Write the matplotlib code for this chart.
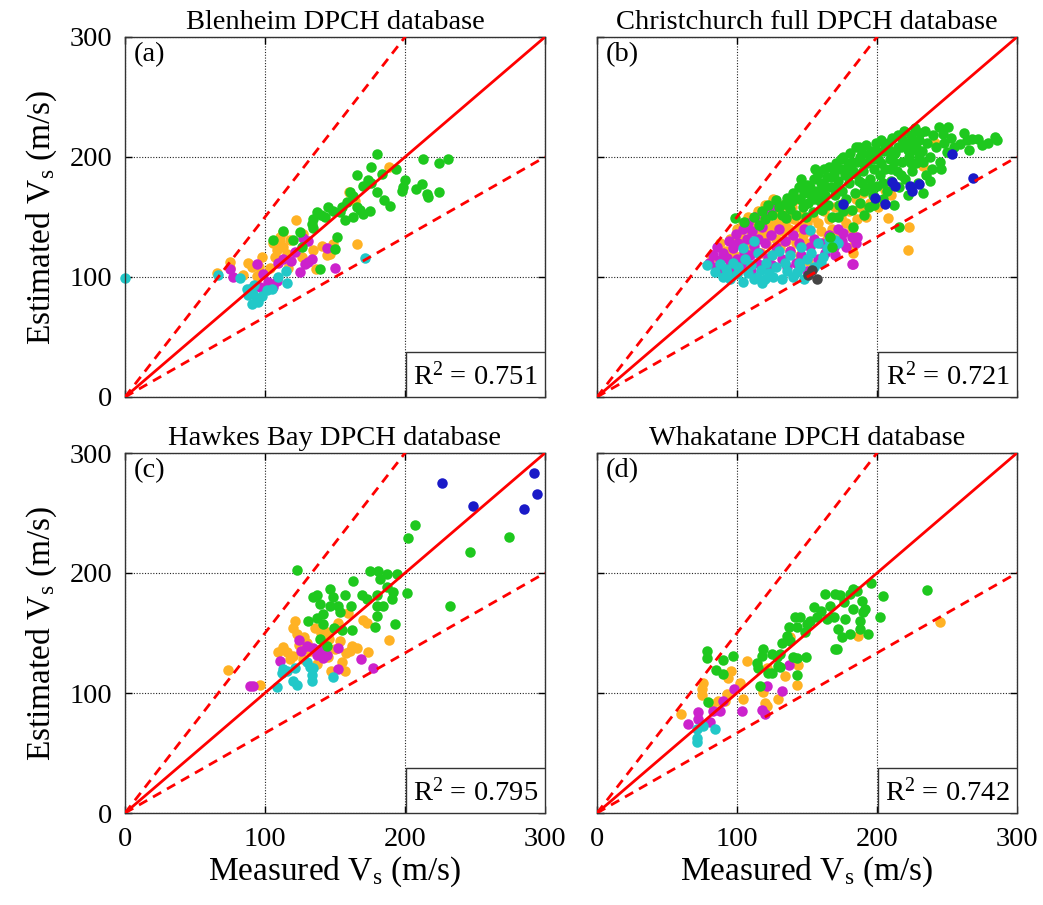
"""
Measured vs estimated shear-wave velocity, four DPCH sites.
"""

import matplotlib
matplotlib.use("Agg")
import matplotlib.pyplot as plt
import matplotlib.patches as mpatches
import numpy as np

plt.rcParams["font.family"] = "Liberation Serif"
plt.rcParams["mathtext.fontset"] = "custom"
plt.rcParams["mathtext.rm"] = "Liberation Serif"
plt.rcParams["mathtext.it"] = "Liberation Serif:italic"

# soil class colours
C_GREEN = "#1ec81e"
C_ORANGE = "#ffb224"
C_MAGENTA = "#cc22cc"
C_CYAN = "#22c8c8"
C_BLUE = "#1a1ac8"
C_GRAY = "#454545"

TITLES = ["Blenheim DPCH database", "Christchurch full DPCH database",
          "Hawkes Bay DPCH database", "Whakatane DPCH database"]
TAGS = ["(a)", "(b)", "(c)", "(d)"]
R2 = [0.751, 0.721, 0.795, 0.742]

# --- (a) Blenheim: (measured, estimated) ---
A_ORANGE = [(188.8, 191.7), (160.2, 170.5), (164.3, 163.6), (122.1, 147.2), (112.6, 137.5),
            (108.3, 122.2), (113.1, 125), (115.5, 119.5), (107.1, 116.8), (105.9, 128),
            (110.7, 129.3), (127.4, 135.6), (165.5, 127.2), (140.5, 125.5), (144, 118),
            (146.4, 119.4), (134.5, 122.2), (126.2, 116.8), (75, 112.5), (65.5, 103.3),
            (88.1, 111.9), (90.5, 108.6), (97.6, 116.4), (96, 108.6), (84.5, 101.4),
            (94.5, 100.6), (103.6, 107.7), (116.7, 107.7), (136.4, 107), (148.8, 127.8),
            (75, 107.8), (118, 131), (111, 133)]
A_MAGENTA = [(75, 107), (77.4, 100), (94, 111), (109.5, 112), (113.1, 115.3), (118.8, 113.3),
             (121.4, 120.8), (128.6, 110.8), (133.3, 115), (127, 132.5), (131, 129.7),
             (144, 124.2), (150, 107.2), (125, 103.9), (108.3, 97), (102.4, 95.6),
             (96.4, 91.5), (105.9, 91.5), (89.3, 90), (98.8, 102.7), (130.5, 112.5)]
A_CYAN = [(0, 99.2), (66.7, 101.9), (82.1, 99.4), (115, 105.3), (116, 94.7), (109.5, 99.7),
          (171.4, 116.2), (86.9, 90), (91.7, 86), (94, 82), (90.5, 77.8), (95, 79.3),
          (101.2, 89), (104.8, 90.4), (88.1, 85.3), (97.6, 84), (92, 93)]
A_GREEN = [(180.2, 202.8), (212.6, 198.6), (224.5, 195), (231, 198.6), (175.5, 191.7),
           (183.3, 186), (166, 184.7), (173.8, 180.5), (193.6, 190.3), (200, 181),
           (198.8, 175), (197.6, 171.7), (207.9, 173.3), (211.9, 177.2), (215.5, 169.5),
           (216.7, 166.7), (224.5, 171), (179.8, 171), (185, 164.4), (189.3, 158.9),
           (175, 155), (170.2, 152.2), (165.5, 158), (163.1, 167.8), (160.7, 170.5),
           (158.3, 162.2), (154.8, 158), (148.8, 155.2), (145.2, 158), (142.9, 149.9),
           (136.9, 153.9), (134.5, 148.4), (133.3, 144.3), (134.5, 140.9), (125, 137.3),
           (113.1, 138.1), (120.2, 131), (105.5, 131), (126.2, 124.9), (151.2, 133.3),
           (150, 123.6), (139.3, 107), (157.1, 147.2), (153.6, 154.2), (163.1, 150),
           (167.9, 155.6), (176, 178), (170, 176), (140, 152)]

# --- (b) Christchurch ---
B_ORANGE = [(81.9, 116.4), (87.9, 128.3), (99.8, 140.3), (92, 122), (95, 132), (98, 118),
            (100, 128), (102, 135), (104, 145), (105, 122), (107, 130), (108, 150),
            (110, 138), (111, 125), (112, 145), (114, 132), (115, 155), (116, 140),
            (117, 120), (118, 148), (119, 135), (120, 160), (121, 128), (122, 145),
            (123, 152), (124, 138), (125, 118), (126, 165), (127, 143), (128, 132),
            (129, 155), (130, 148), (131, 125), (132, 138), (133, 160), (134, 145),
            (135, 130), (136, 152), (137, 140), (138, 122), (139, 158), (140, 135),
            (141, 148), (142, 128), (143, 165), (144, 142), (145, 118), (146, 152),
            (147, 135), (148, 160), (149, 128), (150, 145), (151, 113), (152, 138),
            (154, 150), (156, 130), (158, 145), (160, 138), (162, 155), (164, 132),
            (166, 148), (168, 140), (170, 158), (172, 135), (174, 150), (176, 162),
            (178, 145), (180, 155), (182, 140), (183, 126), (183, 120), (185, 165),
            (188, 158), (190, 170), (192, 150), (195, 162), (198, 166), (205.7, 172.2),
            (208, 149.5), (222.4, 122.2), (223.1, 141.6), (232.6, 192.3), (241.4, 211.4),
            (186, 148), (201, 158), (210, 168)]
B_MAGENTA = [(80, 112), (83, 118), (85, 108), (86, 125), (88, 114), (90, 120), (91, 105),
             (93, 116), (94, 130), (95, 110), (97, 124), (98, 104), (99, 136), (100, 115),
             (101, 128), (103, 108), (104, 140), (105, 120), (106, 112), (107, 132),
             (108, 145), (109, 118), (110, 105), (111, 138), (112, 126), (113, 150),
             (114, 112), (115, 132), (116, 120), (118, 142), (119, 108), (120, 128),
             (121, 155), (122, 116), (124, 135), (126, 158), (125, 110), (128, 125),
             (130, 140), (132, 115), (134, 130), (136, 108), (138, 122), (140, 135),
             (142, 112), (144, 128), (146, 118), (148, 140), (150, 105), (152, 125),
             (155, 132), (158, 115), (160, 128), (163, 120), (166, 135), (169, 125),
             (172, 140), (175, 130), (178, 125), (181.9, 133.5), (183.1, 110.6),
             (185.5, 133.4), (181.9, 111.1), (176, 137), (170, 118), (185, 128)]
B_CYAN = [(78.3, 109.7), (84.3, 104.2), (87.9, 111.1), (90, 100), (92, 107), (95, 98),
          (97, 112), (99.8, 102.8), (101, 108), (104, 96), (106, 115), (108, 103),
          (110, 110), (112, 98), (114, 100), (115, 120), (117, 106), (118, 95),
          (120, 98.6), (121, 112), (123, 103), (125, 118), (126, 100), (128, 108),
          (130, 122), (132, 98), (134, 112), (136, 105), (138, 118), (140, 100),
          (142.6, 104), (144, 112), (145, 108.3), (146, 125), (148, 98), (150, 115),
          (152.1, 139.4), (153, 120), (155, 108), (158, 128), (160, 112), (161.7, 116.7),
          (164, 124), (166, 131), (170, 130.5), (172, 128), (112, 130), (104, 124),
          (93, 103)]
B_GREEN = [(98.6, 149.4), (105, 146), (112, 150), (118, 155), (122, 160), (120, 148),
           (125, 152), (116, 143), (128, 164), (130, 158), (132, 152), (134, 161),
           (136, 166), (138, 157), (140, 170), (135, 149), (139, 163), (142, 152),
           (144, 175), (145, 165), (147, 158), (148, 170), (150, 177), (151, 162),
           (153, 168), (154, 154), (155, 182), (149, 150), (146, 182), (157, 172),
           (158, 186), (159, 163), (160, 178), (161, 156), (162, 190), (163, 168),
           (164, 183), (165, 160), (166, 192), (167, 175), (168, 150), (169, 186),
           (170, 168), (156, 190), (171, 195), (172, 180), (173, 160), (174, 190),
           (175, 172), (176, 200), (177, 185), (178, 165), (179, 195), (180, 178),
           (181, 203), (182, 156), (183, 188), (184, 170), (185, 208), (172, 150),
           (176, 155), (186, 196), (187, 180), (188, 162), (189, 203), (190, 188),
           (191, 172), (192, 210), (193, 195), (194, 158), (195, 182), (196, 205),
           (197, 168), (198, 190), (199, 212), (200, 176), (187, 208), (191, 152),
           (198, 160), (201, 198), (202, 185), (203, 214), (204, 165), (205, 205),
           (206, 190), (207, 172), (208, 212), (209, 198), (210, 180), (211, 216),
           (212, 160), (213, 203), (214, 188), (215, 218), (216, 175), (217, 208),
           (218, 196), (219, 222), (220, 182), (221, 212), (222, 168), (223, 200),
           (224, 218), (225, 188), (226, 206), (227, 224), (228, 195), (229, 178),
           (230, 214), (232, 205), (233, 196), (234, 222), (235, 185), (236, 212),
           (238, 200), (239, 190), (240, 218), (242, 208), (244, 225), (245, 196),
           (247, 219), (248, 212), (250, 204), (251, 225), (246, 190), (253, 216),
           (255, 208), (259, 211), (262, 220), (264, 214), (266, 206), (268, 215),
           (272, 215), (275, 210), (279, 212), (284, 217), (286, 214), (238, 180),
           (233, 170), (216, 142), (183, 142), (167.6, 125), (166.4, 133), (163, 176),
           (167, 183), (171, 174), (174, 198), (178, 188), (182, 196), (185, 186),
           (188, 200), (190, 195), (194, 202), (197, 198), (200, 205), (203, 195),
           (206, 210), (209, 205), (212, 196), (215, 208), (218, 215), (222, 206),
           (225, 212), (228, 208), (231, 220), (160, 170), (155, 165), (152, 175),
           (170, 190), (180, 185), (189, 178), (195, 175), (204, 178), (210, 190),
           (217, 185), (224, 195), (230, 200)]
B_BLUE = [(253.3, 202.8), (268.8, 182.2), (210.5, 178.8), (223.6, 175.5), (230.2, 177.5),
          (205.7, 160.6), (198.6, 166.1), (176, 161), (213, 176), (225, 172)]
B_GRAY = [(153.3, 105.6), (156.9, 98.6), (151, 102)]

# --- (c) Hawkes Bay ---
C_ORANGE_PTS = [(73.8, 119.4), (96.4, 106.5), (121.4, 160.3), (120, 154), (122.6, 149.3),
                (128, 147), (135.7, 154.4), (140, 150), (144, 151.1), (146, 145),
                (152.4, 158), (159.5, 166.9), (170.2, 160.8), (173, 158), (188.8, 143.9),
                (113.1, 138.1), (116, 134), (120, 131), (109.5, 134.2), (118, 128),
                (127, 128), (140, 137), (142, 140), (150, 137), (153.6, 143.1),
                (160.7, 135.3), (158, 133), (162, 139), (165.5, 137.3), (173.8, 133.9),
                (157.1, 118.6), (147, 118.6), (136.9, 123.9), (130, 142), (124, 140),
                (132, 135), (145, 130), (155, 126)]
C_MAGENTA_PTS = [(89.3, 106.1), (91.2, 106.1), (124.5, 143.9), (129.8, 139.2), (126, 135),
                 (134.5, 137.2), (139, 135.5), (144, 131.4), (141.7, 129), (152.4, 137.2),
                 (168.5, 128.1), (176.9, 120.6), (152.4, 119.7), (110.7, 126.9),
                 (137, 132)]
C_CYAN_PTS = [(108.3, 104.7), (120.2, 110.3), (122.6, 106.5), (113.1, 119.7), (112, 116.8),
              (115.5, 118), (121.4, 120.6), (129.8, 125.8), (132, 121.5), (134.5, 120.8),
              (133.3, 114.8), (133.3, 109.8), (148.8, 113.5)]
C_GREEN_PTS = [(207.1, 240), (202.1, 228.9), (246.4, 217.2), (232.1, 172.8), (122.6, 202.8),
               (175, 201.9), (180.9, 201.9), (186.9, 199.2), (194, 199.2), (182.1, 195),
               (163.1, 193.6), (201.2, 183.4), (186.9, 188), (191.5, 184), (190.5, 178),
               (179.8, 181.4), (169.1, 181.9), (172.6, 178.5), (179.8, 172.8), (184.5, 172.8),
               (192.9, 157.5), (179.8, 164.4), (178.6, 154.7), (161.4, 172.8), (157.1, 181.9),
               (148.8, 179.9), (146.4, 186.3), (136.9, 181.4), (134.5, 180), (139.3, 174.4),
               (141.7, 166.1), (146.4, 172.8), (152.4, 172.8), (153.6, 167.5), (130.9, 159.9),
               (136.9, 162.6), (141.7, 157.1), (149, 154.4), (154.8, 152.9), (162.1, 152.9),
               (139.3, 145.1), (144, 139), (274, 230)]
C_BLUE_PTS = [(226.2, 274.7), (248.3, 256.1), (292.4, 283.3), (294, 265.8), (285, 253)]

# --- (d) Whakatane ---
D_ORANGE = [(186.7, 147.8), (137.9, 146.4), (143.8, 123.3), (143.1, 106.6), (134.3, 114.3),
            (106.9, 126.9), (92.6, 115.3), (93.8, 112.5), (96, 118), (102.1, 108.1),
            (118.8, 101), (120, 92), (121.2, 89.5), (129.5, 94.7), (104.1, 94.7),
            (92.6, 99.4), (91.4, 93.5), (76, 108.1), (74.8, 103.3), (74.8, 98.6),
            (86.7, 93.3), (82, 91), (59.8, 82.5), (121.2, 121.1), (245, 159)]
D_MAGENTA = [(137.4, 123.3), (121.2, 106.1), (132.4, 101.9), (117.6, 86.1), (120, 82.5),
             (103.3, 85.3), (98.1, 103.6), (90.2, 93.3), (87.9, 85.3), (83.1, 85.3),
             (72, 83.9), (72.4, 78.3), (80.7, 75.5), (65.2, 74.2)]
D_CYAN = [(76, 72.5), (71.2, 69.8), (84.3, 70.3), (71.7, 62.3), (71.2, 59.5)]
D_GREEN = [(235.5, 186.1), (204.5, 180.6), (202.1, 163), (195.7, 191.7), (193.8, 149.2),
           (187.9, 153.3), (180.7, 149.2), (174.8, 146.4), (170, 136.7), (171.7, 136.7),
           (172.4, 153.3), (187.9, 160.3), (189, 177), (191.4, 170), (190.2, 167.5),
           (183.1, 170), (177, 161.7), (180.7, 182.3), (185.5, 185.1), (183.1, 186.5),
           (173.6, 181.4), (170, 182.3), (162.9, 182.3), (166.7, 172.5), (169, 163),
           (164.3, 161.7), (157.1, 163), (154.8, 171.4), (150, 157.5), (145.2, 163),
           (141.7, 163), (142.9, 154.7), (136.9, 154.7), (135.7, 147.8), (138.1, 143.6),
           (148.6, 150.6), (131.9, 141.9), (130.7, 132.2), (118.8, 136.7), (117.6, 131.1),
           (124.8, 132.5), (128.3, 129.7), (122.4, 116.9), (124.8, 116.9), (114, 124.8),
           (115.2, 121.1), (116.4, 106.1), (130.7, 121.4), (129.5, 122.8), (140.2, 129.7),
           (142.6, 129.2), (149.3, 130.2), (142.9, 115.3), (78.8, 135.3), (78.8, 128.9),
           (90.2, 127.8), (96.9, 130.5), (85, 118.9), (90.2, 115.9), (79.5, 92.8),
           (176.2, 176), (160, 168), (152, 160)]

FS = 20.5  # titles, ticks, tags, R^2
FS_LABEL = 24


def draw_panel(ax, idx, groups):
    # reference lines: 1:1 and +/-50 %
    xs = np.array([0, 300])
    ax.plot(xs, xs, color="red", lw=2.0, zorder=3)
    ax.plot(xs, xs * 1.5, color="red", lw=2.0, dashes=(3.4, 2.4), zorder=3)
    ax.plot(xs, xs / 1.5, color="red", lw=2.0, dashes=(3.4, 2.4), zorder=3)

    for pts, col in groups:
        arr = np.array(pts)
        ax.scatter(arr[:, 0], arr[:, 1], s=57, color=col, linewidths=0,
                   zorder=2, clip_on=False)

    ax.set_xlim(0, 300)
    ax.set_ylim(0, 300)
    ax.set_xticks([0, 100, 200, 300])
    ax.set_yticks([0, 100, 200, 300])
    ax.grid(True, color="#222222", linestyle=(0, (1, 1.5)), lw=0.8, zorder=1)
    ax.tick_params(direction="in", length=5, width=1.0, labelsize=FS,
                   top=True, right=True)
    ax.tick_params(axis="x", pad=10)
    ax.tick_params(axis="y", pad=9)
    for sp in ax.spines.values():
        sp.set_linewidth(1.0)
        sp.set_color("#333333")

    ax.set_title(TITLES[idx], fontsize=FS, pad=6)
    ax.text(0.02, 0.985, TAGS[idx], transform=ax.transAxes, fontsize=FS,
            ha="left", va="top")

    # R^2 box in the lower-right corner
    box = mpatches.Rectangle((0.67, 0.0), 0.33, 0.125, transform=ax.transAxes,
                             facecolor="white", edgecolor="#333333", lw=1.0, zorder=4)
    ax.add_patch(box)
    ax.text(0.835, 0.058, f"R$^2$ = {R2[idx]:.3f}", transform=ax.transAxes,
            fontsize=FS, ha="center", va="center", zorder=5)

    if idx in (0, 1):
        ax.tick_params(labelbottom=False)
    if idx in (1, 3):
        ax.tick_params(labelleft=False)
    if idx in (0, 2):
        ax.set_ylabel("Estimated V$_\\mathrm{s}$ (m/s)", fontsize=FS_LABEL, labelpad=8)
    if idx in (2, 3):
        ax.set_xlabel("Measured V$_\\mathrm{s}$ (m/s)", fontsize=FS_LABEL, labelpad=2)


fig = plt.figure(figsize=(10.43, 9.05), dpi=100)
W, H = 1043, 905
boxes = [(125, 37), (597, 37), (125, 453), (597, 453)]
panels = [
    [(A_ORANGE, C_ORANGE), (A_MAGENTA, C_MAGENTA), (A_CYAN, C_CYAN), (A_GREEN, C_GREEN)],
    [(B_ORANGE, C_ORANGE), (B_MAGENTA, C_MAGENTA), (B_CYAN, C_CYAN), (B_GREEN, C_GREEN),
     (B_BLUE, C_BLUE), (B_GRAY, C_GRAY)],
    [(C_ORANGE_PTS, C_ORANGE), (C_MAGENTA_PTS, C_MAGENTA), (C_CYAN_PTS, C_CYAN),
     (C_GREEN_PTS, C_GREEN), (C_BLUE_PTS, C_BLUE)],
    [(D_ORANGE, C_ORANGE), (D_MAGENTA, C_MAGENTA), (D_CYAN, C_CYAN), (D_GREEN, C_GREEN)],
]
for i, (left, top) in enumerate(boxes):
    ax = fig.add_axes([left / W, 1 - (top + 360) / H, 420 / W, 360 / H])
    draw_panel(ax, i, panels[i])

fig.savefig("out.png", dpi=100, facecolor="white")
